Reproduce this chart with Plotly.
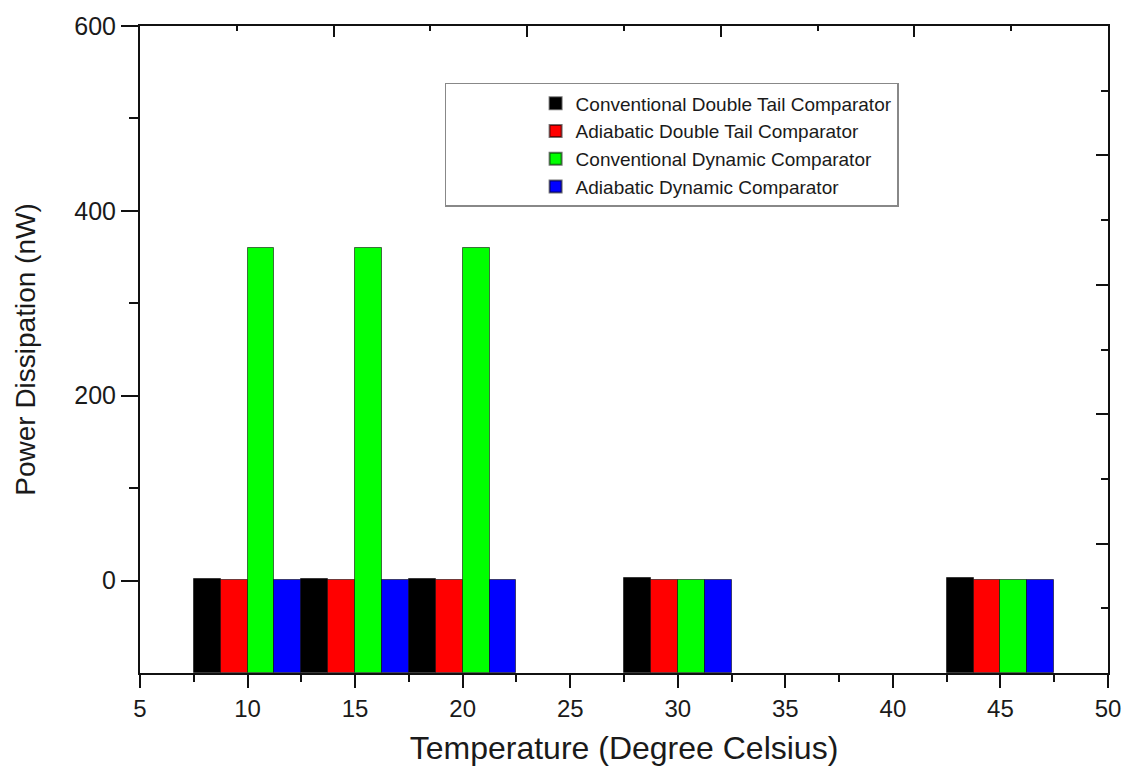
import plotly.graph_objects as go

# ---- data ----
temperatures = [10, 15, 20, 30, 45]
series_names = [
    "Conventional Double Tail Comparator",
    "Adiabatic Double Tail Comparator",
    "Conventional Dynamic Comparator",
    "Adiabatic Dynamic Comparator",
]
conv_double_tail = [1.5, 1.5, 1.5, 3.0, 3.0]
adia_double_tail = [0.4, 0.4, 0.4, 0.4, 0.4]
conv_dynamic = [360, 360, 360, 0.6, 0.6]
adia_dynamic = [0.3, 0.3, 0.3, 0.3, 0.3]
series_values = [conv_double_tail, adia_double_tail, conv_dynamic, adia_dynamic]
series_colors = ["#000000", "#ff0000", "#00ff00", "#0000ff"]

x_ticks = [5, 10, 15, 20, 25, 30, 35, 40, 45, 50]
y_ticks = [0, 200, 400, 600]
BASE = -100  # bars rise from the bottom of the value axis (Origin style)

FONT = "Liberation Sans, Arial, sans-serif"

fig = go.Figure()
for name, vals, col in zip(series_names, series_values, series_colors):
    fig.add_trace(go.Bar(
        x=temperatures,
        y=[v - BASE for v in vals],
        base=BASE,
        name=name,
        marker=dict(color=col, line=dict(color="rgba(0,0,0,0.55)", width=1)),
        customdata=vals,
        hovertemplate="%{x} °C: %{customdata} nW<extra>" + name + "</extra>",
    ))

# invisible helper trace so the decorative top/right axes are drawn
fig.add_trace(go.Scatter(x=[None], y=[None], xaxis="x2", yaxis="y2",
                         showlegend=False, hoverinfo="skip"))

axis_line = dict(showline=True, linecolor="#111111", linewidth=2,
                 showgrid=False, zeroline=False)

fig.update_layout(
    width=1129, height=766,
    margin=dict(l=140, r=21, t=26, b=93),
    paper_bgcolor="white", plot_bgcolor="white",
    barmode="group", bargap=0, bargroupgap=0,
    font=dict(family=FONT, color="#1a1a1a", size=24),
    xaxis=dict(
        range=[5, 50], tickvals=x_ticks, ticks="outside", ticklen=13, tickwidth=2,
        tickcolor="#111111", automargin=False,
        minor=dict(tickvals=[7.5, 12.5, 17.5, 22.5, 27.5, 32.5, 37.5, 42.5, 47.5],
                   ticks="outside", ticklen=7, tickwidth=2, tickcolor="#111111"),
        tickfont=dict(size=24),
        title=dict(text="Temperature (Degree Celsius)", font=dict(size=32), standoff=20),
        **axis_line,
    ),
    yaxis=dict(
        range=[-100, 600], tickvals=y_ticks, ticks="outside", ticklen=17, tickwidth=2,
        tickcolor="#111111", automargin=False,
        minor=dict(tickvals=[100, 300, 500], ticks="outside", ticklen=9, tickwidth=2,
                   tickcolor="#111111"),
        tickfont=dict(size=25),
        title=dict(text="Power Dissipation (nW)", font=dict(size=28), standoff=30),
        **axis_line,
    ),
    xaxis2=dict(
        overlaying="x", side="top", anchor="y", range=[0, 10],
        tickvals=[2, 4, 6, 8], ticks="inside", ticklen=11, tickwidth=2, tickcolor="#111111",
        minor=dict(tickvals=[1, 3, 5, 7, 9], ticks="inside", ticklen=5, tickwidth=2,
                   tickcolor="#111111"),
        showticklabels=False, **axis_line,
    ),
    yaxis2=dict(
        overlaying="y", side="right", anchor="x", range=[0, 10],
        tickvals=[2, 4, 6, 8], ticks="inside", ticklen=12, tickwidth=2, tickcolor="#111111",
        minor=dict(tickvals=[1, 3, 5, 7, 9], ticks="inside", ticklen=7, tickwidth=2,
                   tickcolor="#111111"),
        showticklabels=False, **axis_line,
    ),
    legend=dict(
        x=0.315, y=0.912, xanchor="left", yanchor="top",
        bgcolor="white", bordercolor="#888888", borderwidth=1.5,
        font=dict(size=19, family=FONT, color="#1a1a1a"),
        title=dict(text="\u00a0" * 15, side="left", font=dict(size=19)),
        tracegroupgap=0, itemsizing="constant",
    ),
)

fig.write_html("out.html")
